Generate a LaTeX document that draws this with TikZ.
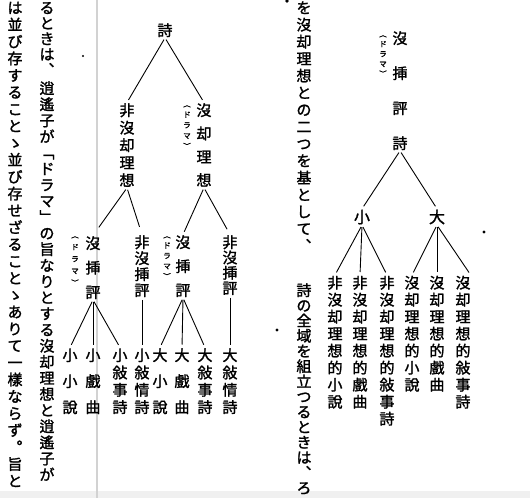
\documentclass[tikz,border=0pt]{standalone}
\usepackage{fontspec}
\setmainfont{Noto Sans CJK JP}[FakeBold=1.6]
\ExplSyntaxOn
% one column of vertical text, one character every #1
\NewDocumentCommand\tate{O{17bp}m}
 {
  \vbox
   {
    \offinterlineskip
    \tl_map_inline:nn {#2}
     {
      \hbox to 1em {\hss\vrule height .88em depth .12em width 0pt\smash{##1}\hss}
      \vskip \dimexpr #1 - 1em \relax
     }
    \unskip
   }
 }
\ExplSyntaxOff
\tikzset{
  body/.style={font=\fontsize{15bp}{17bp}\selectfont, inner sep=0pt, anchor=north},
  term/.style={font=\fontsize{15bp}{17bp}\selectfont, inner sep=0pt, anchor=north},
  leaf/.style={font=\fontsize{15bp}{17bp}\selectfont, inner sep=0pt, anchor=north},
  kana/.style={font=\fontsize{7.5bp}{8bp}\selectfont, inner sep=0pt, anchor=north},
  branch/.style={line width=0.9bp, shorten <=2bp, shorten >=3bp},
  gutter/.style={line width=1.2bp, gray!35},
}
\begin{document}
\begin{tikzpicture}[x=1bp, y=-1bp]
    \useasboundingbox (0,0) rectangle (530,498);
    % page edge and scan border
    \fill[gray!12] (0,491) rectangle (530,498);
    \draw[gutter] (97,0) -- (97,498);

    % running text
    \node[body] (colA)  at (15,0)     {\tate[16.9bp]{は並び存することゝ並び存せざることゝありて一樣ならず︒旨と}};
    \node[body] (colB1) at (47,0)     {\tate[15.5bp]{るときは︑}};
    \node[body] (colB2) at (47,80.5)  {\tate[16.1bp]{逍遙子が﹁ドラマ﹂の旨なりとする沒却理想と逍遙子が}};
    \node[body] (colC1) at (304,0)    {\tate[17bp]{を沒却理想との二つを基として︑}};
    \node[body] (colC2) at (304,282.5){\tate[15.2bp]{詩の全域を組立つるときは︑ろ}};

    % left tree
    \node[term] (shiL) at (165,22.5)  {\tate{詩}};
    \node[term] (hiL)  at (127,102.5) {\tate[17.5bp]{非沒却理想}};
    \node[term] (botL) at (204,102.5) {\tate[23.3bp]{沒却理想}};
    \node[kana] (drA)  at (187,100)   {\tate[10.6bp]{︵ドラマ︶}};

    \node[term] (hyoA) at (93,235.5)  {\tate[24.5bp]{沒挿評}};
    \node[kana] (drB)  at (75,231)    {\tate[12bp]{︵ドラマ︶}};
    \node[term] (hiA)  at (142,234.5) {\tate[16bp]{非沒挿評}};
    \node[term] (hyoB) at (183,234.5) {\tate[24bp]{沒挿評}};
    \node[kana] (drC)  at (167,231)   {\tate[10.4bp]{︵ドラマ︶}};
    \node[term] (hiB)  at (230,234.5) {\tate[15.3bp]{非沒挿評}};

    \node[term] (sA1) at (70,347.5)  {\tate[26bp]{小小說}};
    \node[term] (sA2) at (93,347.5)  {\tate[26bp]{小戲曲}};
    \node[term] (sA3) at (120,347.5) {\tate[17.3bp]{小敍事詩}};
    \node[term] (sB)  at (142,347.5) {\tate[17.3bp]{小敍情詩}};
    \node[term] (dA1) at (160,347.5) {\tate[26bp]{大小說}};
    \node[term] (dA2) at (182,347.5) {\tate[26bp]{大戲曲}};
    \node[term] (dA3) at (205,347.5) {\tate[17.3bp]{大敍事詩}};
    \node[term] (dB)  at (230,347.5) {\tate[17.3bp]{大敍情詩}};

    \draw[branch] (shiL.south) -- (hiL.north);
    \draw[branch] (shiL.south) -- (botL.north);
    \draw[branch, shorten >=10bp] (hiL.south) -- (hyoA.north);
    \draw[branch, shorten >=8bp] (hiL.south) -- (hiA.north);
    \draw[branch] (botL.south) -- (hyoB.north);
    \draw[branch, shorten >=6bp] (botL.south) -- (hiB.north);
    \foreach \c in {sA1,sA2,sA3}
        \draw[branch] (hyoA.south) -- (\c.north);
    \foreach \c in {dA1,dA2,dA3}
        \draw[branch] (hyoB.south) -- (\c.north);
    \draw[branch] (hiA.south) -- (sB.north);
    \draw[branch] (hiB.south) -- (dB.north);

    % right tree
    \node[term] (rootR) at (400,30.5) {\tate[35bp]{沒挿評詩}};
    \node[kana] (drR)   at (383,30)   {\tate[10bp]{︵ドラマ︶}};
    \node[term, font=\fontsize{16bp}{17bp}\selectfont, anchor=center] (shoR) at (362,217) {\tate{小}};
    \node[term, font=\fontsize{16bp}{17bp}\selectfont, anchor=center] (daiR) at (437,217) {\tate{大}};

    \node[leaf] (l1) at (335,275) {\tate{非沒却理想的小說}};
    \node[leaf] (l2) at (360,275) {\tate{非沒却理想的戲曲}};
    \node[leaf] (l3) at (387,275) {\tate{非沒却理想的敍事詩}};
    \node[leaf] (r1) at (412,275) {\tate{沒却理想的小說}};
    \node[leaf] (r2) at (437,275) {\tate{沒却理想的戲曲}};
    \node[leaf] (r3) at (463,275) {\tate{沒却理想的敍事詩}};

    \draw[branch] (rootR.south) -- (shoR.north);
    \draw[branch] (rootR.south) -- (daiR.north);
    \foreach \c in {l1,l2,l3}
        \draw[branch] (shoR.south) -- (\c.north);
    \draw[branch] (daiR.south) -- (r1.north);
    \draw[branch] (daiR.south) -- (r2.north);
    \draw[branch] (daiR.south) -- (r3.north east);

    % specks of the scan
    \fill (287,1) circle (1.8bp);
    \fill (277,330) circle (1.6bp);
    \fill (484,232) circle (1.6bp);
    \fill (83,56) circle (1.2bp);
\end{tikzpicture}
\end{document}
